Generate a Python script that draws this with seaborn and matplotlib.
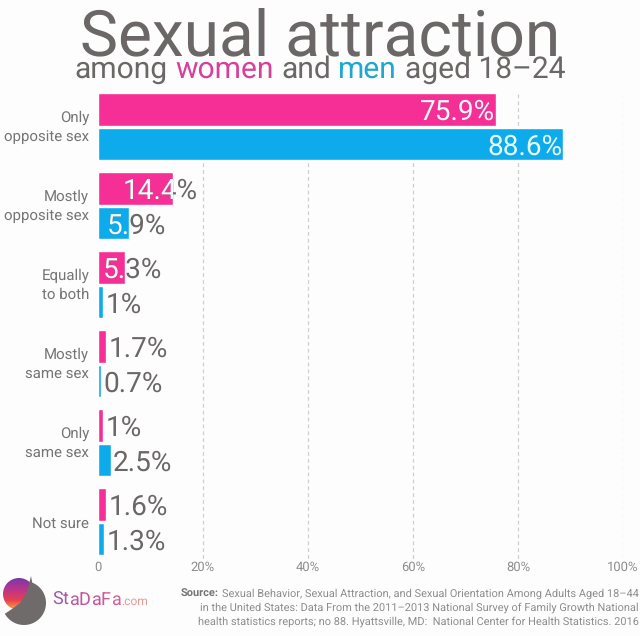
import numpy as np
import pandas as pd
import matplotlib
matplotlib.use("Agg")
import matplotlib.pyplot as plt
from matplotlib.patches import Circle, Polygon
from matplotlib.transforms import ScaledTranslation
import seaborn as sns

categories = ["Only\nopposite sex", "Mostly\nopposite sex", "Equally\nto both", "Mostly\nsame sex", "Only\nsame sex", "Not sure"]
women = [75.9, 14.4, 5.3, 1.7, 1.0, 1.6]
men = [88.6, 5.9, 1.0, 0.7, 2.5, 1.3]
women_labels = ["75.9%", "14.4%", "5.3%", "1.7%", "1%", "1.6%"]
men_labels = ["88.6%", "5.9%", "1%", "0.7%", "2.5%", "1.3%"]
x_ticks = [0, 20, 40, 60, 80, 100]
x_labels = ["0", "20%", "40%", "60%", "80%", "100%"]

PINK, BLUE, GRAY = "#f52f95", "#0dabec", "#6b6767"
W, H = 640, 636
sns.set_theme(style="white")
plt.rcParams["font.family"] = ["Roboto", "DejaVu Sans"]
plt.rcParams["text.hinting"] = "no_hinting"
plt.rcParams["text.hinting_factor"] = 1
fig = plt.figure(figsize=(W / 100, H / 100), dpi=100, facecolor="#fdfdfd")
left, right, top, bottom = 97.5, 623.0, 87.25, 561.25
ax = fig.add_axes([left / W, 1 - bottom / H, (right - left) / W, (bottom - top) / H])
ax.set_facecolor("none")

df = pd.DataFrame({"cat": categories * 2, "v": women + men,
                   "g": ["Women"] * 6 + ["Men"] * 6})
sns.barplot(data=df, y="cat", x="v", hue="g", order=categories, hue_order=["Women", "Men"],
            palette=[PINK, BLUE], width=0.866, gap=0.05, legend=False, ax=ax, zorder=3, saturation=1)
ax.set_xlim(0, 100)
ax.set_ylim(5.5, -0.5)
ax.set_xlabel(""); ax.set_ylabel("")
for s in ax.spines.values():
    s.set_visible(False)
ax.set_xticks(x_ticks, x_labels, color="#8f8c8c", fontsize=9.7)
ax.tick_params(axis="x", length=0, pad=0)
ax.tick_params(axis="y", length=0, pad=6)
ax.set_yticks(range(6), categories, color="#777474", fontsize=10.6, ha="right", linespacing=1.4)
lift = ScaledTranslation(0, 3.5 / 100, fig.dpi_scale_trans)
for lab, cat in zip(ax.get_yticklabels(), categories):
    if "\n" in cat:
        lab.set_transform(lab.get_transform() + lift)
for t in x_ticks[1:]:
    ax.plot([t, t], [-0.42, 5.49], color="#cfcfcf", lw=0.9, ls=(0, (3, 2.5)), zorder=1)

bars = list(ax.containers[0]) + list(ax.containers[1])
labels = women_labels + men_labels
vals = women + men
fig.canvas.draw()
VAL = 20.5
for b, lab, v in zip(bars, labels, vals):
    y = b.get_y() + b.get_height() / 2
    if v > 50:
        ax.annotate(lab, (v, y), xytext=(-1, 0), textcoords="offset pixels", ha="right", va="center_baseline",
                    color="#e8fbfb", fontsize=VAL, zorder=5)
        continue
    off = -51 if v > 10 else (-22 if v >= 5 else 2.5)
    ax.annotate(lab, (v, y), xytext=(off, 0), textcoords="offset pixels", ha="left", va="center_baseline",
                color=GRAY, fontsize=VAL, zorder=5)
    if off < 0:
        t = ax.annotate(lab, (v, y), xytext=(off, 0), textcoords="offset pixels", ha="left", va="center_baseline",
                        color="#f2fbfb", fontsize=VAL, zorder=6)
        t.set_clip_path(b)

r = fig.canvas.get_renderer()
def text_w(s, **k):
    t = fig.text(0, 0, s, **k)
    w = t.get_window_extent(r).width
    t.remove()
    return w

TITLE = 46
title = fig.text(320 / W, 1 - 55 / H, "Sexual attraction", ha="center", va="baseline", color=GRAY, fontsize=TITLE)

# subtitle with coloured words
SUB = 21.5
parts = [("among", GRAY), ("women", "#d6409b"), ("and", GRAY), ("men", "#1fa7cf"), ("aged 18–24", GRAY)]
full = " ".join(p[0] for p in parts)
x0 = 320 - text_w(full, fontsize=SUB) / 2
prefix = ""
bar_w = text_w("|", fontsize=SUB)
for word, col in parts:
    x = x0 + (text_w(prefix + "|", fontsize=SUB) - bar_w if prefix else 0)
    fig.text(x / W, 1 - 78 / H, word, ha="left", va="baseline", color=col, fontsize=SUB)
    prefix += word + " "

# source
SRC = 8.2
src = ["Sexual Behavior, Sexual Attraction, and Sexual Orientation Among Adults Aged 18–44",
       "in the United States: Data From the 2011–2013 National Survey of Family Growth National",
       "health statistics reports; no 88. Hyattsville, MD:  National Center for Health Statistics. 2016"]
for i, l in enumerate(src):
    t = fig.text(638.5 / W, 1 - (596.5 + i * 14.3) / H, l, ha="right", va="baseline", color="#8f8c8c", fontsize=SRC)
    if i == 0:
        e = t.get_window_extent(r)
        fig.text((e.x0 - 3) / W, 1 - 596.5 / H, "Source:", ha="right", va="baseline",
                 color="#777474", fontsize=SRC, fontweight="bold")

# logo
logo = fig.add_axes([0, 0, 1, 1], zorder=10)
logo.set_xlim(0, W); logo.set_ylim(H, 0); logo.axis("off")
grad = np.linspace(0, 1, 256)[:, None]
cmap = matplotlib.colors.LinearSegmentedColormap.from_list("l", ["#6f3aa8", "#b8348f", "#e8404f", "#ffc035"])
im = logo.imshow(grad, extent=(2, 36, 612, 577), cmap=cmap, aspect="auto", zorder=1)
im.set_clip_path(Circle((19, 594), 16, transform=logo.transData))
theta = np.radians(np.linspace(-68, 150, 60))
arc = np.c_[24 + 22 * np.cos(theta), 603 + 22 * np.sin(theta)]
inner = np.array([(4.5, 614), (12, 609), (20, 603), (27, 592), (31, 576)])
logo.add_patch(Polygon(np.vstack([arc, inner]), closed=True, color="#6f6b6b", zorder=2, lw=0))
logo.set_xlim(0, W); logo.set_ylim(H, 0)
x = 52.0
for ch, col in zip("StaDaFa", ["#9a5ca8", "#a85aa5", "#b85aa0", "#c0559c", "#c8559a", "#d05a98", "#d85e95"]):
    t = logo.text(x, 605, ch, color=col, fontsize=13, va="baseline", ha="left")
    x += text_w(ch, fontsize=13) + 0.2
logo.text(x, 605, ".com", color="#e49a95", fontsize=8.4, va="baseline", ha="left")

fig.savefig("out.png", dpi=100, facecolor=fig.get_facecolor())
